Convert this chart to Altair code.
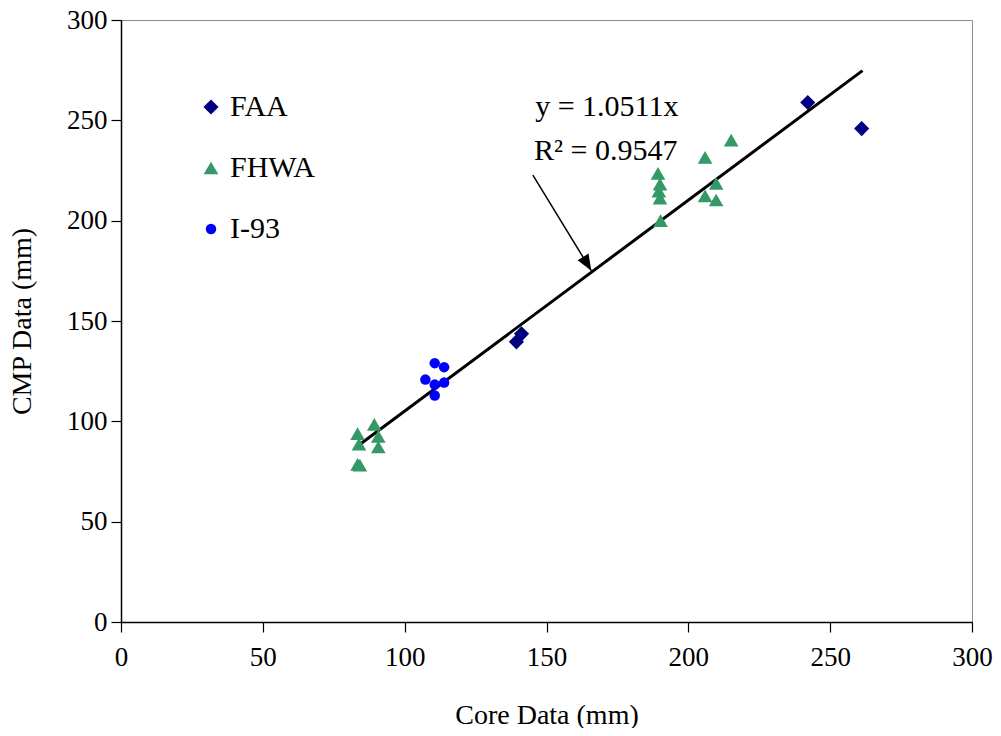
import altair as alt
import pandas as pd

# ---- data ----
faa_x = [139.4, 141.2, 242.1, 261.1]
faa_y = [139.6, 143.6, 258.9, 245.9]

fhwa_x = [83.4, 83.9, 83.4, 84.2, 89.3, 90.7, 90.7,
          189.3, 190.0, 189.6, 190.0, 190.2, 215.1, 205.9, 209.8, 205.9, 209.8]
fhwa_y = [93.9, 88.6, 78.6, 78.2, 98.5, 92.5, 87.2,
          223.6, 218.2, 214.7, 211.2, 200.0, 240.1, 231.5, 218.6, 212.4, 210.3]

i93_x = [110.6, 113.9, 107.3, 110.6, 113.9, 110.6]
i93_y = [129.0, 127.0, 120.8, 118.3, 119.3, 112.9]

series_names = ["FAA", "FHWA", "I-93"]
series_colors = ["#000080", "#339966", "#0000FF"]
series_shapes = ["diamond", "triangle-up", "circle"]
series_sizes = [230, 215, 110]

slope = 1.0511
r2 = 0.9547
trend_x = [82.6, 261.4]

arrow_start = [145.2, 222.7]
arrow_tip = [165.8, 175.1]

eq_label_pos = [146.0, 256.4]
r2_label_pos = [145.6, 234.8]

ticks = [0, 50, 100, 150, 200, 250, 300]

FONT = "Liberation Serif"

rows = []
for name, xs, ys in [("FAA", faa_x, faa_y), ("FHWA", fhwa_x, fhwa_y), ("I-93", i93_x, i93_y)]:
    for xv, yv in zip(xs, ys):
        rows.append({"core": xv, "cmp": yv, "series": name})
pts = pd.DataFrame(rows)

trend = pd.DataFrame({"core": trend_x, "cmp": [slope * v for v in trend_x]})
arrow = pd.DataFrame({"x1": [arrow_start[0]], "y1": [arrow_start[1]],
                      "x2": [arrow_tip[0]], "y2": [arrow_tip[1]]})
labels = pd.DataFrame({
    "x": [eq_label_pos[0], r2_label_pos[0]],
    "y": [eq_label_pos[1], r2_label_pos[1]],
    "t": [f"y = {slope:.4f}x", f"R\u00b2 = {r2:.4f}"],
})

xscale = alt.Scale(domain=[0, 300], nice=False, zero=True)
yscale = alt.Scale(domain=[0, 300], nice=False, zero=True)

xaxis = alt.Axis(values=ticks, title="Core Data (mm)", grid=False, labelFlush=False,
                 labelPadding=12, titlePadding=31)
yaxis = alt.Axis(values=ticks, title="CMP Data (mm)", grid=False, labelFlush=False,
                 labelPadding=4, titlePadding=30)

points = alt.Chart(pts).mark_point(filled=True, opacity=1, strokeWidth=0).encode(
    x=alt.X("core:Q", scale=xscale, axis=xaxis),
    y=alt.Y("cmp:Q", scale=yscale, axis=yaxis),
    color=alt.Color("series:N", title=None,
                    scale=alt.Scale(domain=series_names, range=series_colors)),
    shape=alt.Shape("series:N", title=None,
                    scale=alt.Scale(domain=series_names, range=series_shapes)),
    size=alt.Size("series:N", title=None,
                  scale=alt.Scale(type="ordinal", domain=series_names, range=series_sizes)),
)

line = alt.Chart(trend).mark_line(color="black", strokeWidth=3).encode(
    x="core:Q", y="cmp:Q"
)

arrow_line = alt.Chart(arrow).mark_rule(color="black", strokeWidth=1.5).encode(
    x="x1:Q", y="y1:Q", x2="x2:Q", y2="y2:Q"
)

arrow_head = alt.Chart(arrow).mark_point(
    shape="M0,0L-0.8,2L0.8,2Z", filled=True, color="black", opacity=1,
    size=256, angle=149, strokeWidth=0
).encode(x="x2:Q", y="y2:Q")

text = alt.Chart(labels).mark_text(
    align="left", baseline="middle", font=FONT, fontSize=30, color="black"
).encode(x="x:Q", y="y:Q", text="t:N")

chart = alt.layer(line, arrow_line, arrow_head, points, text).properties(
    width=851, height=602,
    background="white",
    autosize=alt.AutoSizeParams(type="none"),
    padding={"left": 113, "top": 12, "right": 21, "bottom": 106},
).configure_view(
    stroke="#8c8c8c", strokeWidth=1
).configure_axis(
    labelFont=FONT, labelFontSize=27, labelColor="black",
    titleFont=FONT, titleFontSize=28, titleFontWeight="normal", titleColor="black",
    domainColor="black", domainWidth=1.5, tickColor="black", tickSize=10, tickWidth=1.2,
).configure_legend(
    orient="none", legendX=75, legendY=72, padding=0,
    labelFont=FONT, labelFontSize=30, labelColor="black",
    labelOffset=4, rowPadding=31,
)

chart.save("out.html", embed_options={"renderer": "svg", "actions": False})
